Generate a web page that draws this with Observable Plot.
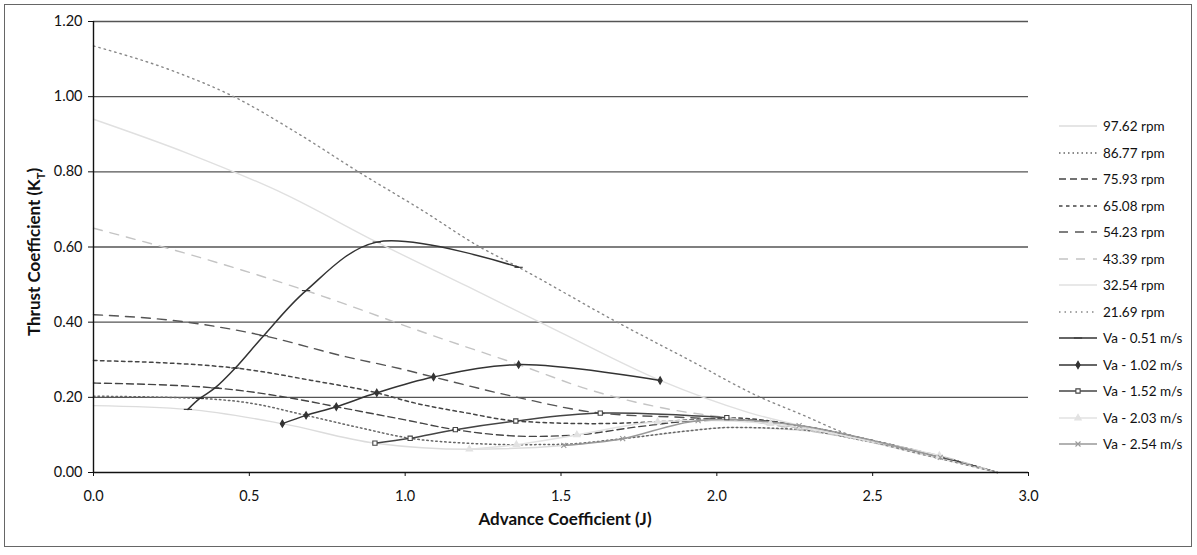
<!DOCTYPE html>
<html>
<head>
<meta charset="utf-8">
<script src="https://cdn.jsdelivr.net/npm/d3@7"></script>
<script src="https://cdn.jsdelivr.net/npm/@observablehq/plot@0.6"></script>
<style>
  html, body { margin: 0; padding: 0; background: #fff; }
  #wrap { position: relative; width: 1197px; height: 555px; font-family: Lato, "Open Sans", sans-serif; color: #111; }
  #frame { position: absolute; left: 4px; top: 4px; width: 1188px; height: 543px; border: 1px solid #666; box-sizing: border-box; pointer-events: none; }
  .ytitle { position: absolute; left: 35px; top: 252px; transform: translate(-50%, -50%) rotate(-90deg); font-weight: 700; font-size: 17px; white-space: nowrap; }
  .xtitle { position: absolute; left: 565px; top: 518px; transform: translate(-50%, -50%); font-weight: 700; font-size: 17px; white-space: nowrap; }
  #legend { position: absolute; left: 1058px; top: 0; }
  .lrow { position: absolute; left: 0; height: 16px; display: flex; align-items: center; white-space: nowrap; font-size: 13.5px; }
  .lrow svg { margin-right: 5px; }
</style>
</head>
<body>
<div id="wrap">
  <div id="chart"></div>
  <div class="ytitle">Thrust Coefficient (K<sub style="font-size:11px">T</sub>)</div>
  <div class="xtitle">Advance Coefficient (J)</div>
  <div id="legend"></div>
  <div id="frame"></div>
</div>
<script>
// ---- data: [J, KT] pairs ----
const rpm_97_62 = [[0,0.178],[0.303,0.168],[0.606,0.13],[0.903,0.078],[1.206,0.062],[1.509,0.072],[1.8,0.10],[2.05,0.12],[2.3,0.11],[2.55,0.07],[2.75,0.035],[2.9,0]];
const rpm_86_77 = [[0,0.203],[0.341,0.197],[0.5,0.185],[0.682,0.152],[0.85,0.12],[1.016,0.091],[1.2,0.078],[1.357,0.074],[1.5,0.075],[1.698,0.09],[1.9,0.11],[2.05,0.12],[2.25,0.115],[2.5,0.08],[2.75,0.035],[2.9,0]];
const rpm_75_93 = [[0,0.238],[0.39,0.225],[0.62,0.20],[0.779,0.175],[1.0,0.14],[1.161,0.114],[1.41,0.096],[1.551,0.10],[1.75,0.122],[1.94,0.138],[2.1,0.14],[2.3,0.12],[2.5,0.085],[2.75,0.035],[2.9,0]];
const rpm_65_08 = [[0,0.298],[0.455,0.278],[0.7,0.245],[0.909,0.212],[1.02,0.187],[1.2,0.158],[1.355,0.137],[1.6,0.13],[1.81,0.135],[2.05,0.145],[2.264,0.125],[2.5,0.085],[2.75,0.035],[2.9,0]];
const rpm_54_23 = [[0,0.42],[0.3,0.40],[0.546,0.364],[0.8,0.31],[0.985,0.276],[1.091,0.254],[1.36,0.20],[1.626,0.158],[1.95,0.144],[2.172,0.13],[2.45,0.09],[2.717,0.04],[2.9,0]];
const rpm_43_39 = [[0,0.65],[0.35,0.57],[0.682,0.484],[1.09,0.364],[1.364,0.287],[1.6,0.218],[1.87,0.165],[2.032,0.146],[2.3,0.11],[2.55,0.075],[2.714,0.045],[2.9,0]];
const rpm_32_54 = [[0,0.94],[0.3,0.85],[0.61,0.742],[0.909,0.613],[1.2,0.495],[1.5,0.372],[1.818,0.245],[2.1,0.16],[2.4,0.10],[2.65,0.05],[2.9,0]];
const rpm_21_69 = [[0,1.135],[0.25,1.07],[0.45,1.0],[0.66,0.9],[0.85,0.8],[1.05,0.70],[1.24,0.6],[1.364,0.546],[1.68,0.4],[1.91,0.3],[2.14,0.2],[2.27,0.155],[2.41,0.105],[2.6,0.06],[2.75,0.03],[2.9,0]];

const va_0_51 = [[0.303,0.168],[0.341,0.197],[0.390,0.225],[0.455,0.278],[0.546,0.364],[0.682,0.484],[0.909,0.613],[1.364,0.546]];
const va_1_02 = [[0.606,0.13],[0.682,0.152],[0.779,0.175],[0.909,0.212],[1.091,0.254],[1.364,0.287],[1.818,0.245]];
const va_1_52 = [[0.903,0.078],[1.016,0.091],[1.161,0.114],[1.355,0.137],[1.626,0.158],[2.032,0.146]];
const va_2_03 = [[1.206,0.062],[1.357,0.074],[1.551,0.10],[1.81,0.135],[2.172,0.13],[2.714,0.045]];
const va_2_54 = [[1.509,0.072],[1.698,0.09],[1.94,0.138],[2.264,0.125],[2.717,0.04]];

const seriesNames = ["97.62 rpm","86.77 rpm","75.93 rpm","65.08 rpm","54.23 rpm","43.39 rpm","32.54 rpm","21.69 rpm",
                     "Va - 0.51 m/s","Va - 1.02 m/s","Va - 1.52 m/s","Va - 2.03 m/s","Va - 2.54 m/s"];
const xTicks = [0, 0.5, 1.0, 1.5, 2.0, 2.5, 3.0];
const yTicks = [0, 0.2, 0.4, 0.6, 0.8, 1.0, 1.2];

// ---- styles ----
const dashSym = {draw(ctx, size){ const r = Math.sqrt(size) * 0.9; ctx.moveTo(-r, 0); ctx.lineTo(r, 0); }};
const rpmSeries = [
  {data: rpm_97_62, stroke: "#dcdcdc", dash: null, w: 1.4},
  {data: rpm_86_77, stroke: "#666", dash: "1.5,3", w: 1.5},
  {data: rpm_75_93, stroke: "#444", dash: "7,4", w: 1.4},
  {data: rpm_65_08, stroke: "#444", dash: "3.5,3.5", w: 1.5},
  {data: rpm_54_23, stroke: "#555", dash: "9,7", w: 1.4},
  {data: rpm_43_39, stroke: "#c4c4c4", dash: "9,8", w: 1.4},
  {data: rpm_32_54, stroke: "#e0e0e0", dash: null, w: 1.4},
  {data: rpm_21_69, stroke: "#888", dash: "1.5,4", w: 1.4}
];
const vaSeries = [
  {data: va_0_51, stroke: "#333", symbol: dashSym, fill: "none", r: 2.6},
  {data: va_1_02, stroke: "#333", symbol: "diamond", fill: "#333", r: 2.2},
  {data: va_1_52, stroke: "#444", symbol: "square", fill: "white", r: 2.4},
  {data: va_2_03, stroke: "#e2e2e2", symbol: "triangle", fill: "#e2e2e2", r: 2.4},
  {data: va_2_54, stroke: "#999", symbol: "times", fill: "none", r: 2.4}
];

const X = d => d[0], Y = d => d[1];
const marks = [
  Plot.ruleY(yTicks.filter(v => v > 0), {stroke: "#555", strokeWidth: 1.3}),
  ...rpmSeries.map(s => Plot.line(s.data, {x: X, y: Y, stroke: s.stroke, strokeWidth: s.w, strokeDasharray: s.dash, curve: "monotone-x"})),
  ...vaSeries.map(s => Plot.line(s.data, {x: X, y: Y, stroke: s.stroke, strokeWidth: 1.5, curve: "catmull-rom"})),
  ...vaSeries.map(s => Plot.dot(s.data, {x: X, y: Y, stroke: s.stroke, fill: s.fill, symbol: s.symbol, r: s.r, strokeWidth: 1.1})),
  Plot.ruleX([0], {stroke: "#111", strokeWidth: 1.4}),
  Plot.ruleY([0], {stroke: "#111", strokeWidth: 1.4}),
  Plot.axisY({ticks: yTicks, tickFormat: d3.format(".2f"), tickSize: 5, tickPadding: 6, label: null, fontSize: 14.5}),
  Plot.axisX({ticks: xTicks, tickFormat: d3.format(".1f"), tickSize: 4, tickPadding: 14, label: null, fontSize: 14.5})
];

const chart = Plot.plot({
  width: 1197, height: 555,
  marginLeft: 93, marginRight: 169, marginTop: 21, marginBottom: 83,
  x: {domain: [0, 3]},
  y: {domain: [0, 1.2]},
  style: {fontFamily: "Lato, 'Open Sans', sans-serif", fontSize: "14.5px", color: "#111", background: "transparent"},
  marks
});
document.getElementById("chart").appendChild(chart);

// ---- legend ----
const legend = d3.select("#legend");
const styles = [...rpmSeries.map(s => ({...s, sym: null})), ...vaSeries.map(s => ({stroke: s.stroke, dash: null, w: 1.5, sym: s.symbol, fill: s.fill, r: s.r}))];
seriesNames.forEach((name, i) => {
  const s = styles[i];
  const row = legend.append("div").attr("class", "lrow").style("top", (126 + 26.5 * i - 8) + "px");
  const svg = row.append("svg").attr("width", 40).attr("height", 12);
  svg.append("line").attr("x1", 1).attr("x2", 39).attr("y1", 6).attr("y2", 6)
    .attr("stroke", s.stroke).attr("stroke-width", s.w).attr("stroke-dasharray", s.dash);
  if (s.sym) {
    const type = typeof s.sym === "string" ? {diamond: d3.symbolDiamond, square: d3.symbolSquare, triangle: d3.symbolTriangle, times: d3.symbolTimes}[s.sym] : s.sym;
    svg.append("path").attr("transform", "translate(20,6)").attr("d", d3.symbol(type, Math.PI * s.r * s.r)())
      .attr("stroke", s.stroke).attr("fill", s.fill).attr("stroke-width", 1.1);
  }
  row.append("span").text(name);
});
</script>
</body>
</html>
